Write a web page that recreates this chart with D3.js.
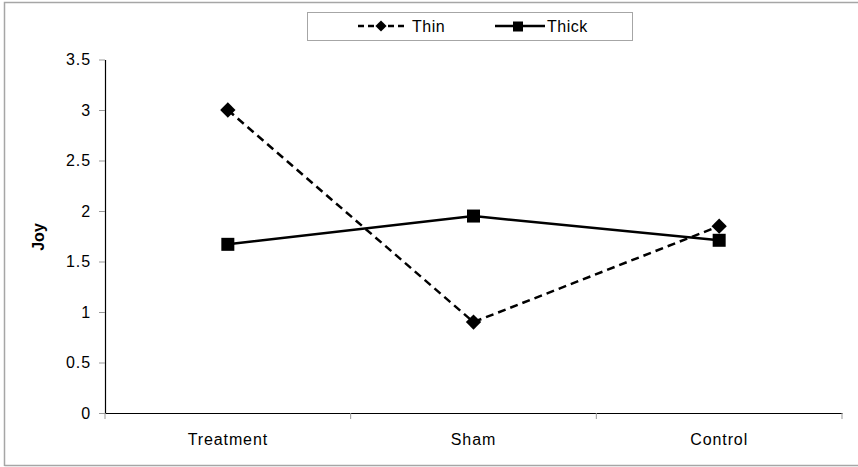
<!DOCTYPE html>
<html><head><meta charset="utf-8">
<script src="https://cdn.jsdelivr.net/npm/d3@7"></script>
<style>body{margin:0;background:#fff}svg{display:block;font-family:"Liberation Sans",Arial,sans-serif}</style>
</head><body>
<svg id="c" width="858" height="467"></svg>
<script>
const categories = ["Treatment", "Sham", "Control"];
const thinValues = [3.0, 0.9, 1.85];
const thickValues = [1.67, 1.95, 1.71];
const yTicks = [0, 0.5, 1, 1.5, 2, 2.5, 3, 3.5];
const seriesNames = ["Thin", "Thick"];

const FONT = "Liberation Sans, Arial, sans-serif";
const svg = d3.select("#c");
// outer frame
svg.append("path").attr("d","M4.5,466 V2.5 H858 M4.5,465.5 H858").attr("fill","none").attr("stroke","#a6a6a6").attr("stroke-width",1.5);

const x = d3.scaleBand().domain(categories).range([105, 842]);
const y = d3.scaleLinear().domain([0, 3.5]).range([413, 59.5]);

// y axis
const ya = svg.append("g").attr("transform","translate(105,0)")
  .call(d3.axisLeft(y).tickValues(yTicks).tickFormat(d3.format("")).tickSize(6).tickSizeOuter(0));
ya.select(".domain").attr("stroke","#000").attr("stroke-width",1.2);
ya.selectAll(".tick line").attr("stroke","#999");
ya.selectAll(".tick text").attr("font-size",16).attr("letter-spacing","0.9px").attr("fill","#000").attr("x",-14).attr("font-family",FONT);

// x axis
const xa = svg.append("g").attr("transform","translate(0,413)")
  .call(d3.axisBottom(x).tickSize(0).tickSizeOuter(0));
xa.select(".domain").attr("stroke","#000").attr("stroke-width",1.2);
xa.selectAll(".tick text").attr("font-size",16).attr("letter-spacing","0.9px").attr("fill","#000").attr("y",32).attr("dy",0).attr("font-family",FONT);
// category boundary ticks
const bounds = [x.range()[0]].concat(categories.map(c => x(c) + x.bandwidth()));
svg.append("g").selectAll("line").data(bounds).join("line")
  .attr("x1",d=>d).attr("x2",d=>d).attr("y1",413).attr("y2",419).attr("stroke","#999");

// y label
svg.append("text").attr("transform","translate(44,237) rotate(-90)").attr("text-anchor","middle")
  .attr("font-size",16).attr("font-weight","bold").text("Joy");

const cx = c => x(c) + x.bandwidth()/2;
const line = d3.line().x((d,i)=>cx(categories[i])).y(d=>y(d));

svg.append("path").datum(thickValues).attr("d",line).attr("fill","none").attr("stroke","#000").attr("stroke-width",2.5);
svg.append("path").datum(thinValues).attr("d",line).attr("fill","none").attr("stroke","#000").attr("stroke-width",2.5).attr("stroke-dasharray","8,5");

const diamond = d3.symbol().type(d3.symbolDiamond2).size(150);
svg.append("g").selectAll("path").data(thinValues).join("path")
  .attr("d",diamond).attr("transform",(d,i)=>`translate(${cx(categories[i])},${y(d)})`).attr("fill","#000");
svg.append("g").selectAll("rect").data(thickValues).join("rect")
  .attr("x",(d,i)=>cx(categories[i])-6.5).attr("y",d=>y(d)-6.5).attr("width",13).attr("height",13).attr("fill","#000");

// legend
const lg = svg.append("g");
lg.append("rect").attr("x",307.5).attr("y",12.5).attr("width",325).attr("height",28).attr("fill","#fff").attr("stroke","#a6a6a6");
lg.append("line").attr("x1",358).attr("x2",404).attr("y1",26).attr("y2",26).attr("stroke","#000").attr("stroke-width",2.5).attr("stroke-dasharray","6,4");
lg.append("path").attr("d",d3.symbol().type(d3.symbolDiamond2).size(80)).attr("transform","translate(381,26)");
lg.append("text").attr("x",412).attr("y",32).attr("font-size",16).attr("letter-spacing","0.5px").text(seriesNames[0]);
lg.append("line").attr("x1",495).attr("x2",545).attr("y1",26).attr("y2",26).attr("stroke","#000").attr("stroke-width",2.5);
lg.append("rect").attr("x",513).attr("y",21.5).attr("width",10).attr("height",10);
lg.append("text").attr("x",547).attr("y",32).attr("font-size",16).attr("letter-spacing","0.5px").text(seriesNames[1]);
</script>
</body></html>
